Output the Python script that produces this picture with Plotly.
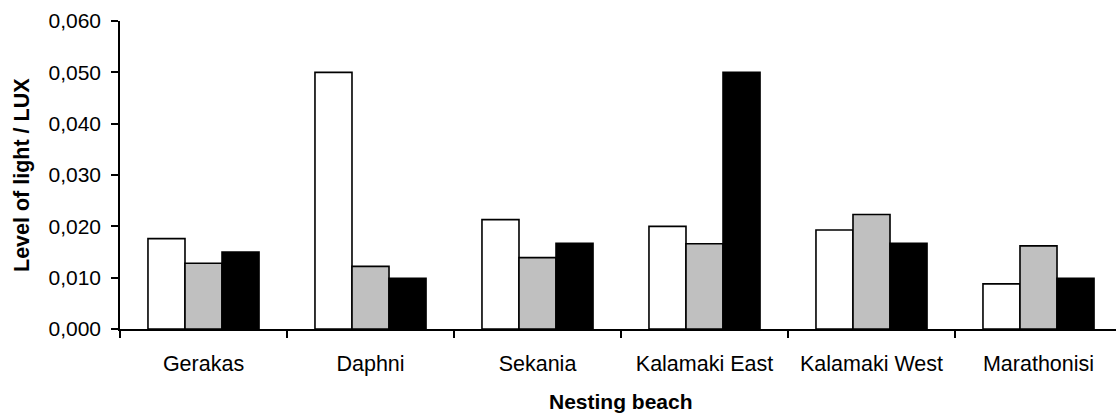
import plotly.graph_objects as go

beaches = ["Gerakas", "Daphni", "Sekania", "Kalamaki East", "Kalamaki West", "Marathonisi"]
series_white = [0.0176, 0.0500, 0.0213, 0.0200, 0.0193, 0.0088]
series_gray = [0.0128, 0.0122, 0.0139, 0.0166, 0.0223, 0.0162]
series_black = [0.0150, 0.0099, 0.0167, 0.0500, 0.0167, 0.0099]
y_ticks = [0.0, 0.01, 0.02, 0.03, 0.04, 0.05, 0.06]

FONT = "Liberation Sans, Arial, sans-serif"
L, R, T, B = 120, 0, 21, 85
W, H = 1116, 414
PW = W - L - R
PH = H - T - B

fig = go.Figure()
for vals, color in [(series_white, "#ffffff"), (series_gray, "#c0c0c0"), (series_black, "#000000")]:
    fig.add_trace(go.Bar(
        x=beaches, y=vals,
        marker=dict(color=color, line=dict(color="#000000", width=1.6)),
        showlegend=False,
    ))

fig.update_layout(
    width=W, height=H,
    margin=dict(l=L, r=R, t=T, b=B, autoexpand=False),
    plot_bgcolor="white", paper_bgcolor="white",
    barmode="group", bargap=0.335, bargroupgap=0,
    separators=",.",
    font=dict(family=FONT, size=21, color="black"),
    annotations=[
        dict(text="<b>Nesting beach</b>", xref="paper", yref="paper",
             x=0.5 + (621 - (L + PW / 2)) / PW, y=-(402 - (T + PH)) / PH,
             xanchor="center", yanchor="middle", showarrow=False,
             font=dict(family=FONT, size=21)),
        dict(text="<b>Level of light / LUX</b>", xref="paper", yref="paper",
             x=-(L - 22) / PW, y=0.5, textangle=-90,
             xanchor="center", yanchor="middle", showarrow=False,
             font=dict(family=FONT, size=21.5)),
    ],
)

fig.update_xaxes(
    range=[-0.5, 5.5 - 6 / 167],
    automargin=False,
    showline=True, linecolor="black", linewidth=1.5,
    ticks="outside", ticklen=7, tickwidth=1.5, tickcolor="black",
    tickson="boundaries",
    ticklabelstandoff=14,
    tickfont=dict(family=FONT, size=21.5),
    showgrid=False, zeroline=False,
)
fig.update_yaxes(
    range=[0, 0.06],
    automargin=False,
    tickvals=y_ticks, tickformat=".3f",
    showline=True, linecolor="black", linewidth=1.5,
    ticks="outside", ticklen=7, tickwidth=1.5, tickcolor="black",
    ticklabelstandoff=6,
    tickfont=dict(family=FONT, size=21),
    showgrid=False, zeroline=False,
)

fig.write_html(
    "out.html",
    config={"displayModeBar": False},
    post_script="document.body.style.margin='0';document.body.style.overflow='hidden';",
)
